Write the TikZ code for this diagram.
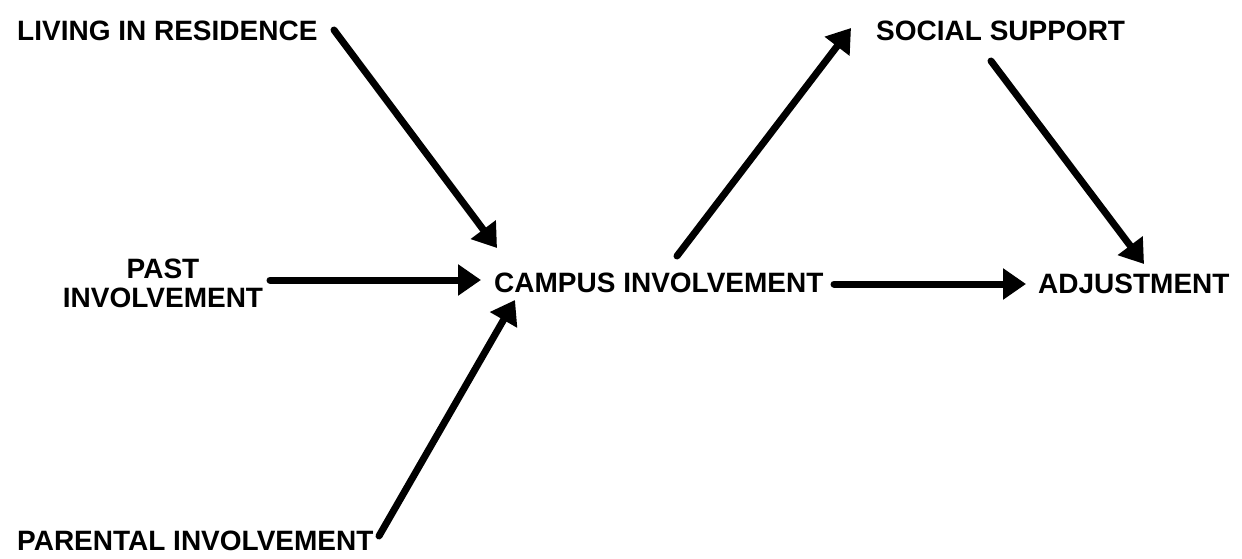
\documentclass[tikz,border=0pt]{standalone}
\usepackage{fontspec}
\setmainfont{Liberation Sans}
\usetikzlibrary{arrows.meta}
\begin{document}
\begin{tikzpicture}[x=1pt,y=-1pt,
  lbl/.style={inner sep=0pt,font=\fontsize{28}{29}\selectfont\bfseries},
  arr/.style={line width=7pt,line cap=round,-{Triangle[length=23pt,width=30pt]}}]
\useasboundingbox (0,0) rectangle (1242,559);
\node[lbl,anchor=base west] (liv) at (17,41) {LIVING IN RESIDENCE};
\node[lbl,align=center,anchor=base] (past) at (163,307) {PAST\\INVOLVEMENT};
\node[lbl,anchor=base west] (camp) at (494,292) {CAMPUS INVOLVEMENT};
\node[lbl,anchor=base west] (soc) at (876,41) {SOCIAL SUPPORT};
\node[lbl,anchor=base west] (adj) at (1038,293) {ADJUSTMENT};
\node[lbl,anchor=base west] (par) at (17,550) {PARENTAL INVOLVEMENT};
% connector end points
\coordinate (livout) at (334,30);
\coordinate (campinL) at (497,248);
\coordinate (pastout) at (270,280);
\coordinate (campinP) at (481,280);
\coordinate (parout) at (379,536);
\coordinate (campinB) at (515,300);
\coordinate (campoutT) at (677,256);
\coordinate (socin) at (851,28);
\coordinate (socout) at (991,61);
\coordinate (adjinT) at (1144,264);
\coordinate (campoutR) at (834,284);
\coordinate (adjinL) at (1026,284);
\draw[arr] (livout) -- (campinL);
\draw[arr] (pastout) -- (campinP);
\draw[arr] (parout) -- (campinB);
\draw[arr] (campoutT) -- (socin);
\draw[arr] (socout) -- (adjinT);
\draw[arr] (campoutR) -- (adjinL);
\end{tikzpicture}
\end{document}
